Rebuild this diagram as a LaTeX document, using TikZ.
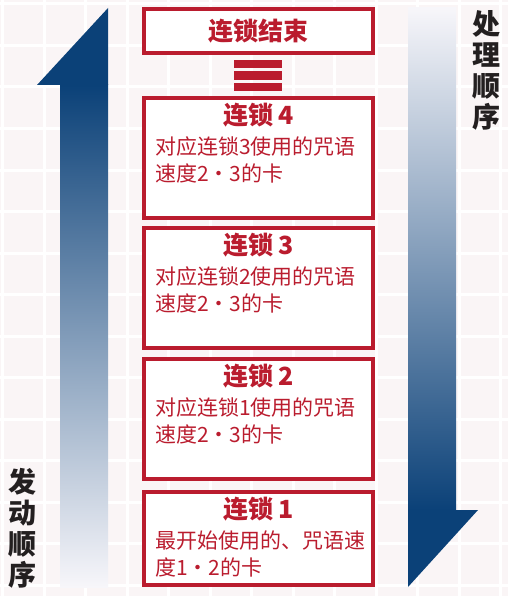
\documentclass[tikz,border=0pt]{standalone}
\usepackage{fontspec}
\newfontfamily\cjk{Noto Sans CJK SC}
\definecolor{chainred}{RGB}{186,28,46}
\definecolor{arrowdark}{RGB}{11,65,120}
\definecolor{arrowmid}{RGB}{148,151,190}
\definecolor{arrowpale}{RGB}{247,246,250}
\definecolor{paper}{RGB}{250,245,246}
\definecolor{sideblack}{RGB}{35,31,32}
\tikzset{
  chainbox/.style={draw=chainred, line width=4pt, fill=white, minimum width=229pt, inner sep=0pt},
  chaintitle/.style={text=chainred, inner sep=0pt, font=\cjk\bfseries\fontsize{25}{30}\selectfont},
  chaintext/.style={text=chainred, inner sep=0pt, anchor=base west, font=\cjk\fontsize{21}{27}\selectfont},
  sidelabel/.style={text=sideblack, inner sep=0pt, align=center, font=\cjk\bfseries\fontsize{28}{31}\selectfont},
  gridline/.style={white, line width=3pt}
}
\begin{document}
\begin{tikzpicture}[x=1pt,y=-1pt]
\useasboundingbox (0,0) rectangle (508,596);
\fill[paper] (0,0) rectangle (508,596);
\foreach \gx in {0,...,12} \draw[gridline] (2.5+41.5*\gx,0) -- (2.5+41.5*\gx,596);
\foreach \gy in {0,...,14} \draw[gridline] (0,4+41.5*\gy) -- (508,4+41.5*\gy);

% arrows
\shade[top color=arrowdark, middle color=arrowmid, bottom color=arrowpale] (60,85) rectangle (108,587);
\fill[arrowdark] (108,8) -- (37,85) -- (108,85) -- cycle;
\shade[top color=arrowpale, middle color=arrowmid, bottom color=arrowdark] (408,8) rectangle (456,510);
\fill[arrowdark] (408,510) -- (478,510) -- (408,587) -- cycle;

\node[sidelabel] (proc) at (486.5,70) {处\\理\\顺\\序};
\node[sidelabel] (fire) at (22.5,528) {发\\动\\顺\\序};

% chain boxes
\node[chainbox, minimum height=44pt] (cend) at (258.5,31) {};
\node[chaintitle] (tend) at (cend.center) {连锁结束};
\fill[chainred] (234,60) rectangle (282,68.5);
\fill[chainred] (234,71.5) rectangle (282,80);
\fill[chainred] (234,83) rectangle (282,91.5);

\node[chainbox, minimum height=120pt] (c4) at (258.5,158) {};
\node[chaintitle] (t4) at ([yshift=-19.5pt]c4.north) {连锁 4};
\node[chaintext] (c4a) at ([xshift=13pt,yshift=-58pt]c4.north west) {对应连锁3使用的咒语};
\node[chaintext] (c4b) at ([xshift=13pt,yshift=-85pt]c4.north west) {速度2・3的卡};

\node[chainbox, minimum height=120pt] (c3) at (258.5,288) {};
\node[chaintitle] (t3) at ([yshift=-19.5pt]c3.north) {连锁 3};
\node[chaintext] (c3a) at ([xshift=13pt,yshift=-58pt]c3.north west) {对应连锁2使用的咒语};
\node[chaintext] (c3b) at ([xshift=13pt,yshift=-85pt]c3.north west) {速度2・3的卡};

\node[chainbox, minimum height=120pt] (c2) at (258.5,419) {};
\node[chaintitle] (t2) at ([yshift=-19.5pt]c2.north) {连锁 2};
\node[chaintext] (c2a) at ([xshift=13pt,yshift=-58pt]c2.north west) {对应连锁1使用的咒语};
\node[chaintext] (c2b) at ([xshift=13pt,yshift=-85pt]c2.north west) {速度2・3的卡};

\node[chainbox, minimum height=93pt] (c1) at (258.5,538.5) {};
\node[chaintitle] (t1) at ([yshift=-19.5pt]c1.north) {连锁 1};
\node[chaintext] (c1a) at ([xshift=13pt,yshift=-58pt]c1.north west) {最开始使用的、咒语速};
\node[chaintext] (c1b) at ([xshift=13pt,yshift=-85pt]c1.north west) {度1・2的卡};

\end{tikzpicture}
\end{document}
